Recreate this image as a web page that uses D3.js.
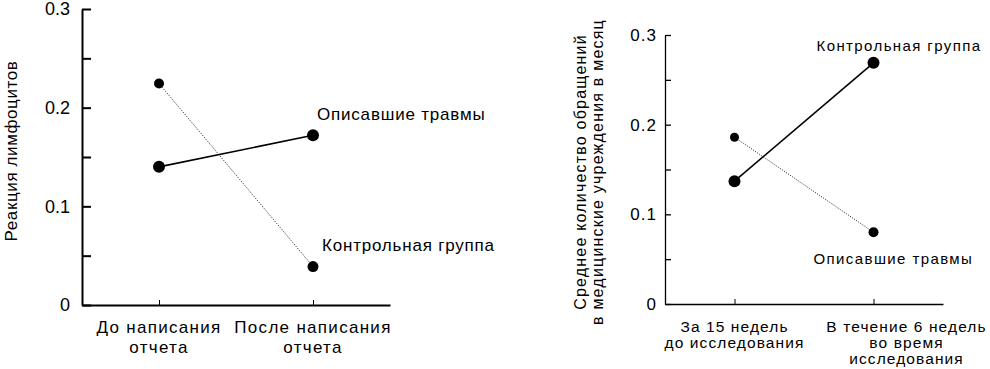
<!DOCTYPE html>
<html>
<head>
<meta charset="utf-8">
<script src="https://cdn.jsdelivr.net/npm/d3@7"></script>
<style>
  html, body { margin: 0; padding: 0; background: #fff; }
  svg { display: block; }
  text { font-family: "Liberation Sans", Arial, sans-serif; fill: #000; }
</style>
</head>
<body>
<svg id="chart" width="990" height="369"></svg>
<script>
// ---- data ----
const yTickValues = [0, 0.05, 0.1, 0.15, 0.2, 0.25, 0.3];
const yTickLabels = ["0", "", "0.1", "", "0.2", "", "0.3"];

// Left panel
const catsA = [["До написания", "отчета"], ["После написания", "отчета"]];
const wroteA = [0.140, 0.172];
const controlA = [0.2245, 0.039];
const yTitleA = ["Реакция лимфоцитов"];

// Right panel
const catsB = [["За 15 недель", "до исследования"], ["В течение 6 недель", "во время", "исследования"]];
const controlB = [0.137, 0.269];
const wroteB = [0.186, 0.080];
const yTitleB = ["Среднее количество обращений", "в медицинские учреждения в месяц"];

const seriesNames = { wrote: "Описавшие травмы", control: "Контрольная группа" };

const svg = d3.select("#chart");

function panel(cfg) {
  const g = svg.append("g");
  const keys = cfg.cats.map((c, i) => "c" + i);
  const x = d3.scalePoint().domain(keys).range([cfg.x0, cfg.x1]).padding(cfg.pad);
  const y = d3.scaleLinear().domain([0, 0.3]).range([cfg.y0, cfg.y1]);

  // y axis
  const ya = d3.axisLeft(y).tickValues(yTickValues)
    .tickFormat((d, i) => yTickLabels[i])
    .tickSizeInner(-cfg.tick).tickSizeOuter(0).tickPadding(cfg.tickPad);
  const yg = g.append("g").attr("transform", `translate(${cfg.x0},0)`).call(ya);
  yg.select(".domain").attr("stroke-width", cfg.axisW);
  yg.selectAll(".tick line").attr("stroke-width", cfg.axisW);
  yg.selectAll("text").style("font-size", cfg.tickFont + "px")
    .style("letter-spacing", cfg.tickLs + "px")
    .style("font-family", '"Liberation Sans", Arial, sans-serif');

  // x axis
  const xa = d3.axisBottom(x).tickFormat("").tickSizeInner(-5).tickSizeOuter(0);
  const xg = g.append("g").attr("transform", `translate(0,${cfg.y0})`).call(xa);
  xg.select(".domain").attr("stroke-width", cfg.axisW);
  xg.selectAll(".tick line").attr("stroke-width", 1);

  // category labels
  cfg.cats.forEach((lines, i) => {
    const t = g.append("text").attr("text-anchor", "middle")
      .style("font-size", cfg.catFont + "px")
      .style("letter-spacing", cfg.catLs + "px");
    lines.forEach((ln, j) => {
      t.append("tspan").attr("x", x(keys[i]) + cfg.catDx[i]).attr("y", cfg.catY + j * cfg.catLH).text(ln);
    });
  });

  // y title
  const yt = g.append("text").attr("text-anchor", "middle")
    .attr("transform", `translate(${cfg.titleX},${cfg.titleY}) rotate(-90)`)
    .style("font-size", cfg.titleFont + "px")
    .style("letter-spacing", cfg.titleLs + "px");
  cfg.title.forEach((ln, j) => {
    yt.append("tspan").attr("x", 0).attr("y", j * cfg.titleLH).text(ln);
  });

  // series
  const line = d3.line().x((d, i) => x(keys[i])).y(d => y(d));
  cfg.series.forEach(s => {
    g.append("path").datum(s.values).attr("d", line)
      .attr("fill", "none").attr("stroke", "#000")
      .attr("stroke-width", s.solid ? 1.6 : 0.9)
      .attr("stroke-dasharray", s.solid ? null : "1,1.5");
    g.selectAll(null).data(s.values).enter().append("circle")
      .attr("cx", (d, i) => x(keys[i])).attr("cy", d => y(d))
      .attr("r", (d, i) => s.r[i]).attr("fill", "#000");
    g.append("text")
      .attr("x", x(keys[1]) + s.lab[0]).attr("y", y(s.values[1]) + s.lab[1])
      .style("font-size", cfg.labFont + "px")
      .style("letter-spacing", cfg.labLs + "px")
      .text(seriesNames[s.name]);
  });
}

panel({
  cats: catsA, x0: 82, x1: 390, pad: 0.5, y0: 305, y1: 9,
  tick: 9, tickPad: 12, axisW: 2, tickFont: 18, tickLs: 0,
  catFont: 17, catY: 333, catLH: 20, catLs: 1.3, catDx: [0, 0],
  title: yTitleA, titleX: 17, titleY: 151, titleFont: 17, titleLH: 18, titleLs: 0.6,
  labFont: 17, labLs: 0.8,
  series: [
    { name: "wrote", values: wroteA, solid: true, r: [6, 6], lab: [4, -15] },
    { name: "control", values: controlA, solid: false, r: [5, 5.5], lab: [9, -16] }
  ]
});

panel({
  cats: catsB, x0: 665, x1: 943, pad: 0.5, y0: 304, y1: 35,
  tick: 6, tickPad: 8, axisW: 1.3, tickFont: 17, tickLs: 1,
  catFont: 15.5, catY: 332, catLH: 16, catLs: 1.1, catDx: [0, 33],
  title: yTitleB, titleX: 586, titleY: 172, titleFont: 16, titleLH: 17, titleLs: 1.2,
  labFont: 15, labLs: 1.4,
  series: [
    { name: "control", values: controlB, solid: true, r: [6, 6], lab: [-57, -12] },
    { name: "wrote", values: wroteB, solid: false, r: [4.5, 5], lab: [-60, 32] }
  ]
});
</script>
</body>
</html>
